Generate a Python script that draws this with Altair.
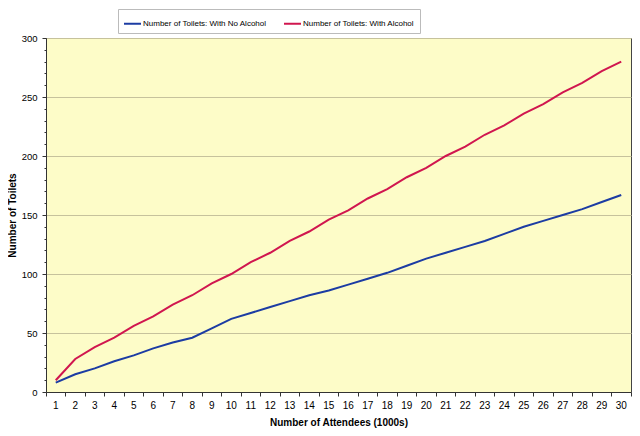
import altair as alt
import pandas as pd

attendees = list(range(1, 31))
no_alcohol = [8, 15, 20, 26, 31, 37, 42, 46, 54, 62, 67, 72, 77, 82, 86, 91, 96, 101,
              107, 113, 118, 123, 128, 134, 140, 145, 150, 155, 161, 167]
with_alcohol = [10, 28, 38, 46, 56, 64, 74, 82, 92, 100, 110, 118, 128, 136, 146, 154,
                164, 172, 182, 190, 200, 208, 218, 226, 236, 244, 254, 262, 272, 280]
series_names = ["Number of Toilets: With No Alcohol", "Number of Toilets: With Alcohol"]
series_colors = ["#1c3ca3", "#d0164f"]
y_ticks = list(range(0, 301, 10))

rows = []
for name, vals in zip(series_names, [no_alcohol, with_alcohol]):
    for a, v in zip(attendees, vals):
        rows.append({"attendees": a, "toilets": v, "series": name})
df = pd.DataFrame(rows)

W, H = 585, 354
FONT = "Liberation Sans"

chart = alt.Chart(df).mark_line(strokeWidth=2).encode(
    x=alt.X(
        "attendees:O",
        sort=attendees,
        bandPosition=0.5,
        scale=alt.Scale(type="band", paddingInner=0, paddingOuter=0),
        axis=alt.Axis(
            title="Number of Attendees (1000s)",
            labelAngle=0,
            bandPosition=1,
            tickExtra=True,
            tickSize=4,
            labelPadding=4,
            labelFontSize=10,
            titlePadding=7,
            grid=False,
        ),
    ),
    y=alt.Y(
        "toilets:Q",
        scale=alt.Scale(domain=[0, 300], nice=False),
        axis=alt.Axis(
            title="Number of Toilets",
            values=y_ticks,
            labelExpr="datum.value % 50 === 0 ? datum.label : ''",
            gridOpacity=alt.condition("datum.value % 50 === 0", alt.value(1), alt.value(0)),
            tickSize=alt.condition("datum.value % 50 === 0", alt.value(4), alt.value(2)),
            labelPadding=5,
            labelFontSize=9.5,
            titlePadding=4,
        ),
    ),
    color=alt.Color(
        "series:N",
        scale=alt.Scale(domain=series_names, range=series_colors),
        legend=alt.Legend(
            title=None,
            orient="none",
            legendX=72,
            legendY=-29,
            direction="horizontal",
            columns=2,
            symbolType="stroke",
            symbolSize=289,
            symbolStrokeWidth=2,
            labelOffset=1,
            columnPadding=13,
            labelFontSize=8,
            labelFont=FONT,
            labelColor="#000000",
            fillColor="#ffffff",
            strokeColor="#bbbbbb",
            padding=5,
            labelLimit=300,
        ),
    ),
).properties(
    width=W,
    height=H,
    autosize=alt.AutoSizeParams(type="none"),
    padding={"left": 38, "top": 30, "right": 1, "bottom": 36},
).configure(
    background="#ffffff",
).configure_view(
    fill="#fdfcc8",
    stroke="#444444",
    strokeWidth=1,
).configure_axis(
    labelFont=FONT,
    titleFont=FONT,
    labelColor="#000000",
    titleColor="#000000",
    titleFontSize=10,
    titleFontWeight="bold",
    domainColor="#333333",
    tickColor="#333333",
    gridColor="#c6c29c",
    gridWidth=1,
)

chart.save("out.html", embed_options={"renderer": "svg", "actions": False})
